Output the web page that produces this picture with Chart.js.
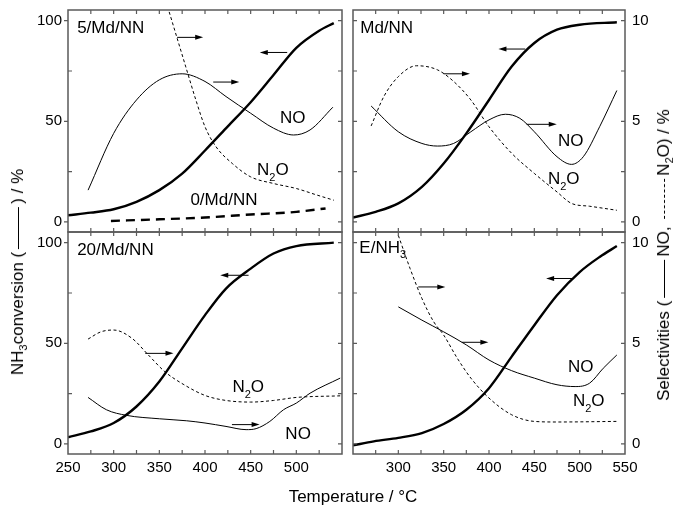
<!DOCTYPE html>
<html lang="en">
<head>
<meta charset="UTF-8">
<title>NH3 conversion and selectivities</title>
<script src="https://cdn.jsdelivr.net/npm/chart.js"></script>
<style>
  body { margin: 0; padding: 0; background: #fff; font-family: 'Liberation Sans', Arial, sans-serif; color: #000; }
  #wrap { position: relative; width: 676px; height: 510px; }
  #wrap canvas { position: absolute; left: 0; top: 0; }
  .ttl { position: absolute; white-space: nowrap; font-size: 17px; line-height: 20px; }
  .rot { transform: translate(-50%, -50%) rotate(-90deg); }
  .ttl sub { font-size: 11px; vertical-align: -4px; line-height: 0; }
  .solid, .dash { display: inline-block; vertical-align: middle; border-top: 1.3px solid #000; margin: 0 3px; }
  .dash { border-top-style: dashed; border-top-width: 1px; }
</style>
</head>
<body>
<div id="wrap">
  <canvas id="pA" width="676" height="510"></canvas>
  <canvas id="pB" width="676" height="510"></canvas>
  <canvas id="pC" width="676" height="510"></canvas>
  <canvas id="pD" width="676" height="510"></canvas>
  <div class="ttl rot" style="left:18px; top:272px;">NH<sub>3</sub>conversion (<span class="solid" style="width:42px"></span>) / %</div>
  <div class="ttl rot" style="left:664px; top:255px;">Selectivities (<span class="solid" style="width:38px"></span>NO, <span class="dash" style="width:40px"></span>N<sub>2</sub>O) / %</div>
  <div class="ttl" style="left:353px; top:497px; transform: translate(-50%, -50%);">Temperature / °C</div>
</div>

<script>
// axis ticks
const xMinor = [250, 275, 300, 325, 350, 375, 400, 425, 450, 475, 500, 525, 550];
const xLabelsLeft = [250, 300, 350, 400, 450, 500];
const xLabelsRight = [300, 350, 400, 450, 500, 550];
const convMinor = [0, 25, 50, 75, 100];
const convLabels = [0, 50, 100];
const selLabels = [0, 5, 10];

// 5/Md/NN  (conversion in %, selectivities on the 0-10 axis)
const aConvT = [250, 275, 300, 325, 350, 375, 400, 425, 450, 475, 500, 525, 541];
const aConv  = [3.3, 4.6, 6.3, 10.0, 15.8, 24.0, 35.5, 47.5, 59.5, 73.0, 86.5, 95.0, 98.8];
const aNoT   = [272, 300, 325, 350, 375, 400, 423, 450, 475, 497, 515, 540];
const aNo    = [1.58, 4.4, 6.06, 7.06, 7.36, 6.98, 6.23, 5.4, 4.66, 4.32, 4.57, 5.7];
const aN2oT  = [350, 360, 369, 379, 390, 400, 412, 430, 450, 475, 500, 523, 541];
const aN2o   = [12.0, 10.55, 9.2, 7.7, 6.06, 4.73, 3.74, 2.9, 2.24, 1.91, 1.66, 1.33, 1.08];
const a0T    = [297, 350, 400, 450, 500, 532];
const a0Conv = [0.5, 1.3, 2.2, 3.7, 5.0, 6.7];

// Md/NN
const bConvT = [250, 275, 300, 326, 350, 375, 400, 425, 450, 475, 500, 541];
const bConv  = [2.2, 5.0, 9.2, 17.4, 29, 44, 60.6, 77.2, 88.9, 95.5, 98, 99.2];
const bNoT   = [270, 300, 326, 343, 361, 380, 400, 418, 434, 450, 475, 491, 504, 522, 541];
const bNo    = [5.76, 4.48, 3.9, 3.77, 3.9, 4.48, 5.07, 5.35, 5.15, 4.48, 3.24, 2.86, 3.24, 4.73, 6.53];
const bN2oT  = [270, 284, 300, 320, 343, 361, 380, 400, 425, 450, 475, 491, 511, 541];
const bN2o   = [4.77, 6.23, 7.22, 7.76, 7.56, 6.98, 6.06, 4.73, 3.41, 2.41, 1.49, 0.92, 0.78, 0.58];

// 20/Md/NN
const cConvT = [250, 275, 300, 325, 350, 375, 400, 423, 450, 475, 500, 541];
const cConv  = [3.3, 6.2, 10.4, 18.6, 31, 47.5, 64, 77.2, 87.1, 94.6, 98.3, 100];
const cNoT   = [272, 292, 314, 350, 380, 400, 423, 445, 456, 471, 486, 500, 515, 548];
const cNo    = [2.31, 1.7, 1.42, 1.25, 1.15, 1.04, 0.87, 0.71, 0.76, 1.12, 1.7, 2.03, 2.52, 3.27];
const cN2oT  = [272, 286, 300, 320, 338, 356, 376, 400, 423, 450, 475, 500, 548];
const cN2o   = [5.21, 5.57, 5.66, 5.25, 4.42, 3.59, 2.97, 2.41, 2.16, 2.08, 2.16, 2.31, 2.39];

// E/NH3
const dConvT = [250, 273, 300, 326, 350, 375, 400, 425, 450, 475, 500, 522, 541];
const dConv  = [-0.7, 1.3, 3.0, 5.4, 9.9, 17, 27.7, 43.4, 59, 73.9, 85.4, 92.9, 98.3];
const dNoT   = [300, 326, 350, 375, 400, 425, 450, 475, 495, 511, 526, 541];
const dNo    = [6.81, 6.15, 5.57, 4.92, 4.17, 3.64, 3.27, 2.94, 2.85, 3.02, 3.76, 4.42];
const dN2oT  = [300, 313, 326, 339, 350, 365, 380, 400, 425, 450, 475, 541];
const dN2o   = [10.36, 8.71, 7.23, 6.07, 5.41, 4.26, 3.27, 2.28, 1.45, 1.12, 1.09, 1.12];

const FONT = "'Liberation Sans', Arial, sans-serif";

// text with "_x" subscripts, left aligned, vertically centred on y
function drawRich(ctx, text, x, y) {
  const parts = text.split(/(_\d)/).filter(s => s);
  let cx = x;
  parts.forEach(p => {
    if (p[0] === '_') {
      ctx.font = '11px ' + FONT;
      ctx.fillText(p[1], cx, y + 7);
      cx += ctx.measureText(p[1]).width;
    } else {
      ctx.font = '17px ' + FONT;
      ctx.fillText(p, cx, y);
      cx += ctx.measureText(p).width;
    }
  });
}

const decor = {
  id: 'decor',
  afterDatasetsDraw(chart, args, o) {
    const { ctx, chartArea: a, scales } = chart;
    const x = scales.x, y = scales.y, y1 = scales.y1;
    ctx.save();

    // arrows pointing to the axis each curve belongs to
    ctx.strokeStyle = '#000';
    ctx.fillStyle = '#000';
    ctx.lineWidth = 1;
    o.arrows.forEach(([from, to, v]) => {
      const p1 = x.getPixelForValue(from), p2 = x.getPixelForValue(to), py = y.getPixelForValue(v);
      const dir = Math.sign(p2 - p1);
      ctx.beginPath();
      ctx.moveTo(p1, py);
      ctx.lineTo(p2 - dir * 5, py);
      ctx.stroke();
      ctx.beginPath();
      ctx.moveTo(p2, py);
      ctx.lineTo(p2 - dir * 8, py - 2.5);
      ctx.lineTo(p2 - dir * 8, py + 2.5);
      ctx.closePath();
      ctx.fill();
    });

    // curve and panel labels
    ctx.textAlign = 'left';
    ctx.textBaseline = 'middle';
    o.labels.forEach(l => drawRich(ctx, l.t, x.getPixelForValue(l.x), y.getPixelForValue(l.y)));

    // frame
    ctx.strokeStyle = '#5a5a5a';
    ctx.lineWidth = 1.5;
    ctx.strokeRect(a.left, a.top, a.right - a.left, a.bottom - a.top);

    // inward ticks
    ctx.lineWidth = 1.2;
    ctx.beginPath();
    xMinor.slice(1, -1).forEach(v => {
      const px = x.getPixelForValue(v);
      ctx.moveTo(px, a.top); ctx.lineTo(px, a.top + 4);
      ctx.moveTo(px, a.bottom); ctx.lineTo(px, a.bottom - 4);
    });
    convMinor.forEach(v => {
      const py = y.getPixelForValue(v);
      if (o.outerLeft && convLabels.includes(v)) {
        ctx.moveTo(a.left - 4, py); ctx.lineTo(a.left, py);
      } else {
        ctx.moveTo(a.left, py); ctx.lineTo(a.left + 4, py);
      }
      const py1 = y1.getPixelForValue(v / 10);
      ctx.moveTo(a.right, py1); ctx.lineTo(a.right - 4, py1);
    });
    ctx.stroke();

    // tick labels
    ctx.fillStyle = '#000';
    ctx.font = '15px ' + FONT;
    if (o.xLabels) {
      ctx.textAlign = 'center';
      ctx.textBaseline = 'top';
      o.xLabels.forEach(v => ctx.fillText(String(v), x.getPixelForValue(v), a.bottom + 6));
    }
    ctx.textBaseline = 'middle';
    if (o.outerLeft) {
      ctx.textAlign = 'right';
      convLabels.forEach(v => ctx.fillText(String(v), a.left - 6, y.getPixelForValue(v)));
    }
    if (o.outerRight) {
      ctx.textAlign = 'left';
      selLabels.forEach(v => ctx.fillText(String(v), a.right + 7, y1.getPixelForValue(v)));
    }
    ctx.restore();
  }
};

function pts(ts, vs) { return ts.map((t, i) => ({ x: t, y: vs[i] })); }

function conv(ts, vs) {
  return { data: pts(ts, vs), yAxisID: 'y', borderColor: '#000', borderWidth: 2.4 };
}
function selNo(ts, vs) {
  return { data: pts(ts, vs), yAxisID: 'y1', borderColor: '#000', borderWidth: 1 };
}
function selN2o(ts, vs) {
  return { data: pts(ts, vs), yAxisID: 'y1', borderColor: '#000', borderWidth: 1, borderDash: [3, 2.5] };
}

function panel(id, pad, datasets, decorOpts) {
  new Chart(document.getElementById(id), {
    type: 'line',
    data: { datasets },
    options: {
      responsive: false,
      animation: false,
      events: [],
      layout: { padding: pad },
      elements: { point: { radius: 0 }, line: { cubicInterpolationMode: 'monotone', fill: false } },
      scales: {
        x: { type: 'linear', min: 250, max: 550, display: false },
        y: { min: -5, max: 105.3, display: false },
        y1: { min: -0.5, max: 10.53, display: false, position: 'right' }
      },
      plugins: { legend: { display: false }, tooltip: { enabled: false }, decor: decorOpts }
    },
    plugins: [decor]
  });
}

panel('pA', { left: 68, top: 10, right: 334, bottom: 278 }, [
  conv(aConvT, aConv),
  selNo(aNoT, aNo),
  selN2o(aN2oT, aN2o),
  Object.assign(conv(a0T, a0Conv), { borderDash: [9, 6] })
], {
  outerLeft: true,
  arrows: [[490, 460, 84.2], [369.5, 398, 91.7], [409, 437.5, 69.5]],
  labels: [{ t: '5/Md/NN', x: 260, y: 96 }, { t: 'NO', x: 482, y: 51.7 },
           { t: 'N_2O', x: 457, y: 25.5 }, { t: '0/Md/NN', x: 384, y: 10.8 }]
});

panel('pB', { left: 353, top: 10, right: 51, bottom: 278 }, [
  conv(bConvT, bConv),
  selNo(bNoT, bNo),
  selN2o(bN2oT, bN2o)
], {
  outerRight: true,
  arrows: [[440, 410.4, 85.9], [350, 379, 73.6], [441.6, 474.7, 48.5]],
  labels: [{ t: 'Md/NN', x: 258, y: 96 }, { t: 'NO', x: 476, y: 40.2 }, { t: 'N_2O', x: 465, y: 21 }]
});

panel('pC', { left: 68, top: 232, right: 334, bottom: 56 }, [
  conv(cConvT, cConv),
  selNo(cNoT, cNo),
  selN2o(cN2oT, cN2o)
], {
  outerLeft: true,
  xLabels: xLabelsLeft,
  arrows: [[447.7, 416.7, 83.8], [334.6, 365.5, 45], [429.5, 459.8, 9.6]],
  labels: [{ t: '20/Md/NN', x: 260, y: 96.2 }, { t: 'N_2O', x: 430, y: 28 }, { t: 'NO', x: 488, y: 4.6 }]
});

panel('pD', { left: 353, top: 232, right: 51, bottom: 56 }, [
  conv(dConvT, dConv),
  selNo(dNoT, dNo),
  selN2o(dN2oT, dN2o)
], {
  outerRight: true,
  xLabels: xLabelsRight,
  arrows: [[322, 351.8, 78], [370, 399.3, 50.5], [493, 463, 82.2]],
  labels: [{ t: 'E/NH_3', x: 257, y: 97.2 }, { t: 'NO', x: 487, y: 38.3 }, { t: 'N_2O', x: 492.6, y: 21 }]
});
</script>
</body>
</html>
